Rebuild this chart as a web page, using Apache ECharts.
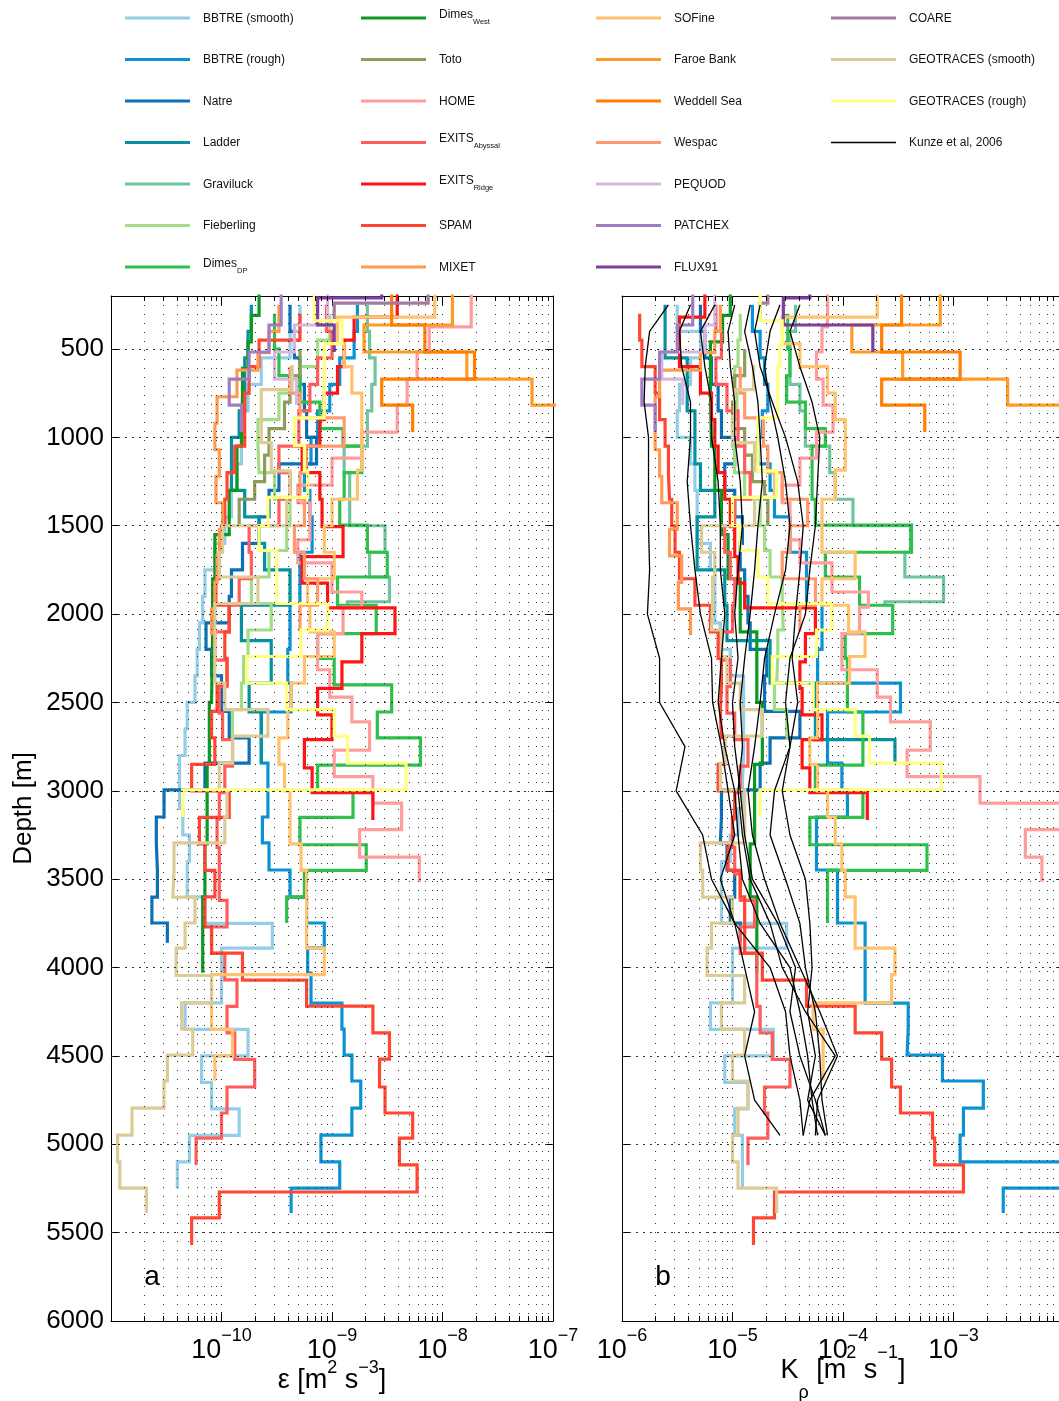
<!DOCTYPE html>
<html>
<head>
<meta charset="utf-8">
<script src="https://cdn.jsdelivr.net/npm/echarts@6.0.0/dist/echarts.min.js"></script>
<style>
html, body { margin: 0; padding: 0; background: #fff; }
#main { width: 1059px; height: 1401px; }
</style>
</head>
<body>
<div id="main"></div>
<script>
// all profile values are log10 of epsilon [m2 s-3] and K_rho [m2 s-1]
// depth arrays are bin edges in m (one more than the values)

const bbtreSmoothDepth = [250, 400, 550, 700, 850, 1000, 1150, 1300, 1450, 1600, 1750, 1900, 2050, 2200, 2350, 2500, 2650, 2800, 2950, 3100, 3250, 3400, 3600, 3750, 3890, 4200, 4350, 4500, 4650, 4800, 4950, 5100, 5250];
const bbtreSmoothEps = [-9.29, -9.38, -9.64, -9.76, -9.82, -9.82, -9.86, -9.91, -9.97, -10.06, -10.15, -10.17, -10.20, -10.22, -10.24, -10.31, -10.33, -10.38, -10.38, -10.35, -10.29, -10.31, -10.15, -9.54, -10.00, -10.33, -9.76, -10.18, -10.09, -9.84, -10.29, -10.40];
const bbtreSmoothK = [-5.50, -5.29, -5.38, -5.48, -5.50, -5.38, -5.34, -5.32, -5.32, -5.20, -5.16, -5.16, -5.11, -5.02, -4.90, -4.90, -4.90, -4.91, -4.91, -4.95, -5.02, -5.10, -5.10, -4.51, -5.00, -5.20, -4.63, -5.07, -4.86, -4.98, -4.91, -4.91];

const bbtreRoughDepth = [250, 400, 550, 700, 850, 1000, 1150, 1300, 1450, 1650, 1940, 2200, 2390, 2554, 2843, 2995, 3148, 3295, 3448, 3601, 3748, 3889, 4031, 4201, 4348, 4495, 4642, 4795, 4948, 5100, 5248, 5389];
const bbtreRoughEps = [-8.77, -8.80, -8.93, -9.02, -9.13, -9.19, -9.25, -9.20, -9.18, -9.29, -9.38, -9.40, -9.37, -9.64, -9.58, -9.58, -9.63, -9.57, -9.38, -9.23, -9.07, -9.22, -9.19, -8.91, -8.89, -8.82, -8.74, -8.82, -9.10, -8.93, -9.37];
const bbtreRoughK = [-4.82, -4.75, -4.71, -4.68, -4.73, -4.77, -4.66, -4.62, -4.48, -4.33, -4.19, -4.23, -3.48, -4.14, -4.01, -3.96, -4.24, -4.24, -4.05, -4.05, -3.80, -3.80, -3.80, -3.41, -3.42, -3.10, -2.73, -2.91, -2.94, -1.85, -2.55];

const natreDepth = [250, 400, 550, 700, 850, 1000, 1150, 1300, 1450, 1600, 1750, 1900, 2050, 2200, 2350, 2550, 2700, 2843, 2995, 3148, 3295, 3448, 3601, 3748, 3860];
const natreEps = [-9.38, -9.34, -9.29, -9.25, -9.23, -9.14, -9.48, -9.57, -9.66, -9.81, -9.91, -9.93, -10.14, -10.09, -10.00, -9.93, -9.75, -10.15, -10.52, -10.59, -10.58, -10.58, -10.63, -10.49];
const natreK = [-5.29, -5.25, -5.19, -5.13, -5.10, -4.98, -5.07, -4.98, -4.91, -4.93, -4.89, -4.86, -4.84, -4.69, -4.71, -4.39, -4.66, -4.75, -5.10, -5.11, -5.05, -4.98, -5.02, -4.93];

const ladderDepth = [250, 400, 550, 700, 850, 1000, 1150, 1300, 1450, 1600, 1750, 1950, 2150, 2390, 2554, 2710, 2843];
const ladderEps = [-9.73, -9.76, -9.79, -9.79, -9.84, -9.91, -9.91, -9.79, -9.66, -9.61, -9.38, -9.82, -9.55, -9.75, -9.64, -9.64];
const ladderK = [-5.61, -5.61, -5.41, -5.41, -5.34, -5.34, -5.29, -5.16, -5.32, -5.32, -5.07, -5.05, -4.66, -4.25, -4.25, -3.53];

const graviluckDepth = [250, 400, 550, 700, 850, 1050, 1200, 1350, 1500, 1650, 1790, 1930, 1945];
const graviluckEps = [-8.68, -8.66, -8.61, -8.64, -8.68, -8.89, -8.84, -8.84, -8.52, -8.66, -8.48, -8.86];
const graviluckK = [-4.43, -4.48, -4.48, -4.39, -4.34, -4.12, -4.07, -3.91, -3.39, -3.44, -3.09, -3.62];

const fieberlingDepth = [300, 450, 600, 750, 900, 1050, 1200, 1350, 1500, 1640, 1790, 1940, 2090, 2240, 2390, 2540, 2710];
const fieberlingEps = [-9.02, -9.13, -9.29, -9.48, -9.67, -9.66, -9.52, -9.38, -9.41, -9.57, -9.73, -9.55, -9.76, -9.80, -9.82, -9.90];
const fieberlingK = [-4.93, -4.95, -4.98, -4.96, -5.00, -4.98, -4.89, -4.75, -4.71, -4.66, -4.55, -4.54, -4.59, -4.60, -4.62, -4.51];

const dimesDPDepth = [300, 500, 650, 800, 950, 1050, 1200, 1350, 1496, 1650, 1790, 1950, 2110, 2250, 2400, 2554, 2700, 2855, 3000, 3150, 3305, 3450, 3600, 3748];
const dimesDPEps = [-9.52, -9.48, -9.29, -9.11, -8.90, -8.73, -8.89, -8.93, -8.68, -8.50, -8.95, -8.60, -9.13, -8.98, -8.46, -8.59, -8.20, -9.13, -8.81, -9.29, -8.69, -9.25, -9.41];
const dimesDPK = [-4.50, -4.48, -4.51, -4.34, -4.16, -4.28, -4.28, -4.25, -3.38, -4.16, -3.85, -3.55, -3.98, -3.96, -3.96, -3.82, -3.82, -4.25, -3.82, -4.30, -3.24, -4.14, -4.14];

const dimesWestDepth = [100, 310, 460, 610, 760, 1050, 1300, 1550, 1800, 2100, 2500, 2850, 3300, 3600, 4030];
const dimesWestEps = [-9.66, -9.73, -9.76, -9.81, -9.82, -9.86, -9.93, -10.06, -10.08, -10.09, -10.11, -10.13, -10.15, -10.17];
const dimesWestK = [-5.02, -5.09, -5.20, -5.20, -5.19, -5.16, -5.10, -5.04, -4.93, -4.78, -4.73, -4.80, -4.84, -4.78];

const totoDepth = [500, 650, 800, 950, 1100, 1250, 1350, 1500];
const totoEps = [-9.29, -9.38, -9.43, -9.57, -9.61, -9.70, -9.84];
const totoK = [-4.89, -4.98, -5.00, -4.89, -4.82, -4.71, -4.68];

const homeDepth = [100, 375, 517, 670, 817, 970, 1117, 1270, 1370, 1580, 1710, 1875, 1960, 2110, 2315, 2470, 2610, 2770, 2920, 3070, 3220, 3375, 3515];
const homeEps = [-7.74, -8.12, -8.23, -8.32, -8.41, -8.73, -9.00, -9.31, -9.20, -9.31, -9.00, -8.73, -8.90, -9.13, -9.02, -8.82, -8.66, -8.98, -8.63, -8.37, -8.75, -8.21];
const homeK = [-4.14, -4.19, -4.24, -4.18, -4.09, -4.24, -4.39, -4.55, -4.48, -4.39, -4.10, -3.77, -3.85, -4.01, -3.69, -3.57, -3.21, -3.42, -2.76, -1.90, -2.35, -2.20];

const exitsAbyssalDepth = [250, 400, 550, 700, 850, 1050, 1200, 1350, 1500, 1650, 1800, 1950, 2100, 2260, 2410, 2560, 2710, 2860, 3010, 3160, 3320, 3470, 3620, 3770, 3920, 4070, 4220, 4370, 4520, 4676, 4823, 4965, 5117];
const exitsAbyssalEps = [-9.05, -9.00, -9.13, -9.20, -9.30, -9.48, -9.38, -9.48, -9.75, -9.73, -9.84, -9.93, -10.06, -9.95, -10.02, -9.99, -9.90, -9.97, -10.02, -10.04, -10.02, -10.02, -9.95, -10.09, -9.97, -9.86, -9.95, -9.88, -9.70, -9.95, -10.00, -10.23];
const exitsAbyssalK = [-5.15, -5.10, -5.15, -5.05, -4.95, -4.89, -4.84, -4.98, -5.07, -5.02, -4.98, -5.00, -5.10, -5.02, -5.05, -4.98, -4.86, -4.93, -4.98, -5.00, -4.98, -4.93, -4.80, -4.93, -4.78, -4.78, -4.75, -4.64, -4.48, -4.71, -4.68, -4.86];

const exitsRidgeDepth = [100, 320, 450, 600, 750, 900, 1050, 1200, 1350, 1505, 1675, 1825, 1965, 2110, 2270, 2420, 2570, 2710, 2870, 3010, 3165];
const exitsRidgeEps = [-8.41, -8.80, -8.89, -8.95, -9.07, -9.11, -9.27, -9.11, -9.09, -8.90, -9.27, -9.04, -8.43, -8.73, -8.91, -9.13, -9.00, -9.25, -9.18, -8.63];
const exitsRidgeK = [-5.25, -5.48, -5.48, -5.29, -5.19, -5.16, -5.13, -5.07, -5.02, -4.98, -4.95, -4.89, -4.25, -4.34, -4.39, -4.37, -4.19, -4.37, -4.30, -3.78];

const spamDepth = [300, 450, 600, 750, 900, 1050, 1200, 1350, 1500, 1650, 1800, 1950, 2100, 2250, 2400, 2550, 2700, 2850, 3000, 3150, 3300, 3450, 3600, 3770, 3918, 4071, 4218, 4370, 4518, 4676, 4823, 4965, 5117, 5270, 5417, 5570];
const spamEps = [-9.29, -9.66, -9.75, -9.79, -9.79, -9.88, -9.95, -9.97, -10.00, -10.02, -10.05, -9.93, -9.97, -9.95, -10.04, -10.09, -10.06, -10.27, -9.93, -10.20, -10.15, -10.06, -10.15, -10.09, -9.81, -9.23, -8.63, -8.48, -8.57, -8.52, -8.27, -8.39, -8.23, -10.02, -10.27];
const spamK = [-5.84, -5.82, -5.70, -5.66, -5.61, -5.58, -5.57, -5.55, -5.52, -5.48, -5.34, -5.20, -5.13, -5.10, -5.11, -5.10, -5.07, -5.13, -4.98, -5.00, -5.04, -4.93, -4.89, -4.89, -4.73, -4.33, -3.89, -3.65, -3.56, -3.48, -3.19, -3.17, -2.91, -4.62, -4.81];

const mixetDepth = [250, 400, 520, 620, 770, 920, 1070, 1220, 1370, 1520, 1670, 1820, 1970, 2120];
const mixetEps = [-9.48, -9.57, -9.67, -9.86, -10.04, -10.06, -10.02, -10.05, -9.99, -10.02, -10.04, -10.06, -10.09];
const mixetK = [-5.11, -5.16, -5.29, -5.66, -5.70, -5.70, -5.66, -5.64, -5.50, -5.57, -5.46, -5.49, -5.38];

const sofineDepth = [100, 320, 470, 600, 750, 900, 1050, 1185, 1350, 1500, 1650, 1800, 1950, 2100, 2240, 2390, 2540, 2700, 2850, 3000, 3150, 3300, 3450, 3600, 3750, 3890, 4040, 4200, 4350, 4500, 4640];
const sofineEps = [-8.07, -8.95, -8.89, -8.82, -8.73, -8.73, -8.73, -8.77, -9.00, -9.07, -8.98, -9.22, -9.20, -8.98, -9.25, -9.37, -9.40, -9.48, -9.43, -9.38, -9.38, -9.28, -9.23, -9.23, -9.23, -9.07, -10.09, -10.09, -9.90, -10.06];
const sofineK = [-3.69, -4.55, -4.39, -4.14, -4.07, -3.98, -3.98, -4.07, -4.19, -4.19, -3.89, -4.19, -3.95, -3.80, -3.94, -4.23, -4.23, -4.30, -4.23, -4.14, -4.07, -4.01, -3.98, -3.89, -3.89, -3.53, -3.56, -4.27, -4.18, -4.18];

const faroeDepth = [100, 364, 517, 670, 817, 970];
const faroeEps = [-7.91, -8.71, -7.78, -7.19, -6.90];
const faroeK = [-3.12, -3.92, -3.46, -2.51, -1.90];

const weddellDepth = [100, 364, 517, 670, 817, 970];
const weddellEps = [-8.46, -8.16, -7.71, -8.55, -8.27];
const weddellK = [-3.47, -3.65, -2.94, -3.65, -3.26];

const wespacDepth = [600, 750, 890, 1050, 1200, 1350, 1500, 1650, 1800, 1950, 2100];
const wespacEps = [-9.38, -9.29, -8.89, -9.23, -9.29, -9.25, -9.34, -9.25, -9.13, -9.29];
const wespacK = [-4.93, -4.89, -4.72, -4.68, -4.55, -4.32, -4.48, -4.55, -4.25, -4.39];

const pequodDepth = [100, 364, 517, 670, 817];
const pequodEps = [-9.04, -9.34, -9.52, -9.32];
const pequodK = [-5.16, -5.25, -5.64, -5.45];

const patchexDepth = [100, 364, 517, 670, 817, 970];
const patchexEps = [-9.46, -9.57, -9.75, -9.93, -9.82];
const patchexK = [-5.36, -5.50, -5.66, -5.82, -5.70];

const flux91Depth = [100, 211, 364, 517];
const flux91Eps = [-8.55, -9.13, -8.98];
const flux91K = [-4.30, -4.54, -3.73];

const coareDepth = [100, 240, 330];
const coareEps = [-8.13, -8.98];
const coareK = [-4.68, -4.75];

const geoSmoothDepth = [590, 730, 880, 1030, 1190, 1340, 1500, 1650, 1790, 1940, 2090, 2240, 2390, 2540, 2690, 2843, 2995, 3148, 3295, 3448, 3601, 3748, 3890, 4045, 4200, 4348, 4495, 4642, 4795, 4948, 5100, 5248, 5389];
const geoSmoothEps = [-9.36, -9.64, -9.64, -9.55, -9.38, -9.41, -9.99, -10.02, -9.67, -10.06, -10.06, -10.06, -9.97, -9.58, -9.90, -10.02, -9.95, -9.97, -10.43, -10.44, -10.24, -10.33, -10.41, -10.09, -10.36, -10.26, -10.49, -10.52, -10.81, -10.94, -10.92, -10.68];
const geoSmoothK = [-4.81, -4.98, -5.00, -4.80, -4.62, -4.80, -5.28, -5.16, -5.18, -5.19, -5.10, -5.05, -4.93, -4.73, -5.07, -5.11, -4.89, -4.89, -5.29, -5.27, -5.00, -5.19, -5.23, -4.89, -5.10, -4.89, -5.00, -4.86, -4.95, -5.00, -4.95, -4.60];

const geoRoughDepth = [100, 340, 470, 600, 750, 890, 1045, 1190, 1340, 1500, 1640, 1790, 1940, 2090, 2240, 2390, 2540, 2690, 2843, 2995, 3148];
const geoRoughEps = [-9.16, -8.91, -9.07, -9.07, -9.07, -9.34, -9.25, -9.22, -9.58, -9.66, -9.50, -9.50, -9.04, -9.28, -9.77, -9.41, -8.98, -8.86, -8.33, -10.35];
const geoRoughK = [-4.75, -4.55, -4.57, -4.59, -4.59, -4.77, -4.77, -4.60, -5.00, -4.93, -4.77, -4.68, -4.10, -4.24, -4.64, -4.27, -3.89, -3.76, -3.11, -4.75];

// Kunze et al. 2006 profiles (log10 K_rho at fixed depths)
const kunzeDepth = [250, 400, 600, 800, 1000, 1250, 1500, 1750, 2000, 2250, 2500, 2750, 3000, 3250, 3500, 3750, 4000, 4250, 4500, 4750, 4950];
const kunze1 = [-5.58, -5.75, -5.79, -5.80, -5.76, -5.76, -5.76, -5.75, -5.77, -5.66, -5.66, -5.43, -5.51, -5.27, -5.19, -4.98, -4.89, -4.80, -4.89, -4.80, -4.57];
const kunze2 = [-5.38, -5.48, -5.46, -5.38, -5.38, -5.41, -5.38, -5.34, -5.29, -5.19, -5.18, -5.10, -5.04, -4.98, -5.11, -4.98, -4.66, -4.52, -4.48, -4.39, -4.36];
const kunze3 = [-5.16, -5.29, -5.25, -5.19, -5.19, -5.13, -5.11, -5.11, -5.07, -5.10, -5.13, -5.07, -4.98, -4.95, -4.91, -4.75, -4.48, -4.39, -4.32, -4.28, -4.23];
const kunze4 = [-4.98, -5.04, -5.02, -4.98, -4.98, -4.93, -4.91, -4.95, -4.98, -4.95, -5.00, -4.98, -4.93, -4.89, -4.82, -4.59, -4.43, -4.48, -4.39, -4.25, -4.16];
const kunze5 = [-4.84, -4.89, -4.82, -4.77, -4.75, -4.73, -4.77, -4.80, -4.84, -4.89, -4.93, -4.91, -4.95, -4.91, -4.84, -4.66, -4.55, -4.34, -4.07, -4.30, -4.36];
const kunze6 = [-4.57, -4.66, -4.71, -4.66, -4.59, -4.52, -4.48, -4.52, -4.62, -4.71, -4.75, -4.80, -4.86, -4.82, -4.71, -4.57, -4.39, -4.21, -4.05, -4.23, -4.25];
const kunze7 = [-4.39, -4.48, -4.39, -4.28, -4.21, -4.23, -4.25, -4.30, -4.34, -4.48, -4.52, -4.48, -4.55, -4.48, -4.34, -4.30, -4.28, -4.32, -4.25, -4.32, -4.16];
const kunze8 = [-4.75, -4.80, -4.75, -4.64, -4.52, -4.41, -4.36, -4.39, -4.43, -4.46, -4.41, -4.48, -4.62, -4.66, -4.52, -4.39, -4.34, -4.25, -4.21, -4.19, -4.14];

// axis ticks
const depthTicks = [500, 1000, 1500, 2000, 2500, 3000, 3500, 4000, 4500, 5000, 5500, 6000];
const epsDecades = [-11, -10, -9, -8];
const kDecades = [-6, -5, -4, -3];
const minorSteps = [1, 2, 3, 4, 5, 6, 7, 8, 9];
const epsLabelExps = [-10, -9, -8, -7];
const kLabelExps = [-6, -5, -4, -3];

const profiles = [
  { name: 'BBTRE (smooth)', label: 'BBTRE (smooth)', color: '#94cde6', depth: bbtreSmoothDepth, eps: bbtreSmoothEps, k: bbtreSmoothK },
  { name: 'BBTRE (rough)', label: 'BBTRE (rough)', color: '#0a92d2', depth: bbtreRoughDepth, eps: bbtreRoughEps, k: bbtreRoughK },
  { name: 'Natre', label: 'Natre', color: '#0b70b5', depth: natreDepth, eps: natreEps, k: natreK },
  { name: 'Ladder', label: 'Ladder', color: '#05929e', depth: ladderDepth, eps: ladderEps, k: ladderK },
  { name: 'Graviluck', label: 'Graviluck', color: '#6fc59b', depth: graviluckDepth, eps: graviluckEps, k: graviluckK },
  { name: 'Fieberling', label: 'Fieberling', color: '#a1dd86', depth: fieberlingDepth, eps: fieberlingEps, k: fieberlingK },
  { name: 'Dimes DP', label: '{n|Dimes}{s|DP}', color: '#2fbf4b', depth: dimesDPDepth, eps: dimesDPEps, k: dimesDPK },
  { name: 'Dimes West', label: '{n|Dimes}{s|West}', color: '#0a9a22', depth: dimesWestDepth, eps: dimesWestEps, k: dimesWestK },
  { name: 'Toto', label: 'Toto', color: '#8f9b58', depth: totoDepth, eps: totoEps, k: totoK },
  { name: 'HOME', label: 'HOME', color: '#ff9d9d', depth: homeDepth, eps: homeEps, k: homeK },
  { name: 'EXITS Abyssal', label: '{n|EXITS}{s|Abyssal}', color: '#ff5c5c', depth: exitsAbyssalDepth, eps: exitsAbyssalEps, k: exitsAbyssalK },
  { name: 'EXITS Ridge', label: '{n|EXITS}{s|Ridge}', color: '#ff1414', depth: exitsRidgeDepth, eps: exitsRidgeEps, k: exitsRidgeK },
  { name: 'SPAM', label: 'SPAM', color: '#ff4632', depth: spamDepth, eps: spamEps, k: spamK },
  { name: 'MIXET', label: 'MIXET', color: '#ff9a52', depth: mixetDepth, eps: mixetEps, k: mixetK },
  { name: 'SOFine', label: 'SOFine', color: '#ffc26f', depth: sofineDepth, eps: sofineEps, k: sofineK },
  { name: 'Faroe Bank', label: 'Faroe Bank', color: '#ff9a26', depth: faroeDepth, eps: faroeEps, k: faroeK },
  { name: 'Weddell Sea', label: 'Weddell Sea', color: '#ff7f00', depth: weddellDepth, eps: weddellEps, k: weddellK },
  { name: 'Wespac', label: 'Wespac', color: '#ff9a6e', depth: wespacDepth, eps: wespacEps, k: wespacK },
  { name: 'PEQUOD', label: 'PEQUOD', color: '#d9b6dd', depth: pequodDepth, eps: pequodEps, k: pequodK },
  { name: 'PATCHEX', label: 'PATCHEX', color: '#a07dc2', depth: patchexDepth, eps: patchexEps, k: patchexK },
  { name: 'FLUX91', label: 'FLUX91', color: '#7c3e9f', depth: flux91Depth, eps: flux91Eps, k: flux91K },
  { name: 'COARE', label: 'COARE', color: '#a27aa2', depth: coareDepth, eps: coareEps, k: coareK },
  { name: 'GEOTRACES (smooth)', label: 'GEOTRACES (smooth)', color: '#dccb96', depth: geoSmoothDepth, eps: geoSmoothEps, k: geoSmoothK },
  { name: 'GEOTRACES (rough)', label: 'GEOTRACES (rough)', color: '#ffff82', depth: geoRoughDepth, eps: geoRoughEps, k: geoRoughK }
];
const kunzeLines = [kunze1, kunze2, kunze3, kunze4, kunze5, kunze6, kunze7, kunze8];
const kunzeName = 'Kunze et al, 2006';

const font = 'Liberation Sans, Arial, Helvetica, sans-serif';
const MINUS = '\u2212';

function stepPoints(depth, logVals) {
  var pts = [];
  for (var i = 0; i < logVals.length; i++) {
    var v = Math.pow(10, logVals[i]);
    pts.push([v, depth[i]], [v, depth[i + 1]]);
  }
  return pts;
}

function gridValues(decades) {
  var out = [];
  decades.forEach(function (n, di) {
    minorSteps.forEach(function (m) {
      if (di === 0 && m === 1) return;
      out.push(m * Math.pow(10, n));
    });
  });
  return out;
}

var epsGrid = gridValues(epsDecades);
var kGrid = gridValues(kDecades);

function helperSeries(gi, xvals) {
  var top = depthTicks[0] - 300, bottom = depthTicks[depthTicks.length - 1];
  var dotted = xvals.map(function (v) { return [{ coord: [v, top] }, { coord: [v, bottom] }]; });
  var hdotted = depthTicks.slice(0, -1).map(function (d) { return { yAxis: d }; });
  var ticks = [];
  xvals.forEach(function (v) {
    if (Math.abs(Math.log10(v) - Math.round(Math.log10(v))) < 1e-6) return;
    ticks.push([{ coord: [v, bottom] }, { coord: [v, bottom - 28] }]);
    ticks.push([{ coord: [v, top] }, { coord: [v, top + 28] }]);
  });
  function ml(data, style) {
    return {
      type: 'line', xAxisIndex: gi, yAxisIndex: gi, data: [], silent: true, z: 1,
      markLine: { silent: true, symbol: ['none', 'none'], animation: false, label: { show: false }, lineStyle: style, data: data }
    };
  }
  return [
    ml(dotted, { color: '#333', width: 1, type: [1, 8] }),
    ml(hdotted, { color: '#333', width: 1, type: [2, 5] }),
    ml(ticks, { color: '#000', width: 1, type: 'solid' })
  ];
}

var series = [].concat(helperSeries(0, epsGrid), helperSeries(1, kGrid));

profiles.forEach(function (p) {
  [['eps', 0], ['k', 1]].forEach(function (pair) {
    series.push({
      name: p.name, type: 'line', xAxisIndex: pair[1], yAxisIndex: pair[1],
      data: stepPoints(p.depth, p[pair[0]]),
      showSymbol: false, symbol: 'none', silent: true, z: 3,
      lineStyle: { color: p.color, width: 3.2, join: 'miter' },
      itemStyle: { color: p.color }
    });
  });
});
kunzeLines.forEach(function (line) {
  series.push({
    name: kunzeName, type: 'line', xAxisIndex: 1, yAxisIndex: 1,
    data: kunzeDepth.map(function (d, i) { return [Math.pow(10, line[i]), d]; }),
    showSymbol: false, symbol: 'none', silent: true, z: 4,
    lineStyle: { color: '#000', width: 1.3 },
    itemStyle: { color: '#000' }
  });
});

function xAxis(gi, min, max, pos) {
  return {
    type: 'log', logBase: 10, gridIndex: gi, min: min, max: max, position: pos,
    axisLine: { show: true, onZero: false, lineStyle: { color: '#000', width: 1 } },
    axisTick: { show: true, inside: true, length: 9, lineStyle: { color: '#000' } },
    axisLabel: { show: false },
    splitLine: { show: false }
  };
}

function yAxis(gi, pos, labels, name) {
  return {
    type: 'value', inverse: true, min: 200, max: 6000, gridIndex: gi, position: pos,
    axisLine: { show: true, onZero: false, lineStyle: { color: '#000', width: 1 } },
    axisTick: { show: true, inside: true, length: 8, customValues: depthTicks, lineStyle: { color: '#000' } },
    axisLabel: {
      show: labels, customValues: depthTicks, fontSize: 26, fontFamily: font, color: '#000', margin: 7,
      formatter: function (v) { return String(v); }
    },
    splitLine: { show: false },
    name: name || '', nameLocation: 'middle', nameGap: 74, nameRotate: 90, nameMoveOverlap: false,
    nameTextStyle: { fontSize: 26, fontFamily: font, color: '#000' }
  };
}

// legend drawn as graphic rows, 7 per column
var legendCols = [125, 361, 596, 831];
var legendItems = profiles.map(function (p) { return { label: p.label, color: p.color, width: 3.2 }; })
  .concat([{ label: kunzeName, color: '#000', width: 1.3 }]);
var graphics = [];
legendItems.forEach(function (it, i) {
  var x0 = legendCols[Math.floor(i / 7)];
  var y = 18 + 41.5 * (i % 7);
  var hasSub = it.label.indexOf('{s|') >= 0;
  graphics.push({ type: 'line', silent: true, shape: { x1: x0, y1: y, x2: x0 + 65, y2: y }, style: { stroke: it.color, lineWidth: it.width } });
  graphics.push({
    type: 'text', silent: true, x: x0 + 78, y: hasSub ? y - 1 : y + 0.5,
    style: {
      text: it.label, fill: '#111', fontSize: 12, fontFamily: font, verticalAlign: 'middle',
      rich: {
        n: { fontSize: 12, fontFamily: font, fill: '#111', lineHeight: 14, verticalAlign: 'top' },
        s: { fontSize: 7.5, fontFamily: font, fill: '#111', lineHeight: 17, verticalAlign: 'bottom' }
      }
    }
  });
});
graphics.push({ type: 'text', silent: true, x: 152, y: 1277, style: { text: 'a', fontSize: 28, fontFamily: font, fill: '#000', align: 'center', verticalAlign: 'middle' } });
graphics.push({ type: 'text', silent: true, x: 663, y: 1277, style: { text: 'b', fontSize: 28, fontFamily: font, fill: '#000', align: 'center', verticalAlign: 'middle' } });

var chart = echarts.init(document.getElementById('main'), null, { renderer: 'canvas' });
chart.setOption({
  animation: false,
  backgroundColor: '#fff',
  grid: [
    { left: 111, top: 296, width: 442, height: 1025, outerBoundsMode: 'none', containLabel: false },
    { left: 622, top: 296, width: 442, height: 1025, outerBoundsMode: 'none', containLabel: false }
  ],
  xAxis: [xAxis(0, 1e-11, 1e-7, 'bottom'), xAxis(1, 1e-6, 1e-2, 'bottom'), xAxis(0, 1e-11, 1e-7, 'top'), xAxis(1, 1e-6, 1e-2, 'top')],
  yAxis: [yAxis(0, 'left', true, 'Depth [m]'), yAxis(1, 'left', false), yAxis(0, 'right', false), yAxis(1, 'right', false)],
  graphic: graphics,
  series: series
});

// x tick labels and axis titles with real super/subscripts, placed from the axis scales
var measureCtx = document.createElement('canvas').getContext('2d');
function textWidth(t, size) {
  measureCtx.font = size + 'px ' + font;
  return measureCtx.measureText(t).width;
}
function placePieces(pieces, cx, baseY) {
  var total = 0;
  pieces.forEach(function (p) { p.w = textWidth(p.t, p.size); total += p.w; });
  var x = cx - total / 2;
  pieces.forEach(function (p) {
    graphics.push({
      type: 'text', silent: true, x: x, y: baseY + (p.dy || 0),
      style: { text: p.t, fontSize: p.size, fontFamily: font, fill: '#000', align: 'left', verticalAlign: 'middle' }
    });
    x += p.w;
  });
}
var axisBottom = chart.convertToPixel({ yAxisIndex: 0 }, 6000);
[[0, epsLabelExps], [1, kLabelExps]].forEach(function (pair) {
  pair[1].forEach(function (e) {
    var cx = chart.convertToPixel({ xAxisIndex: pair[0] }, Math.pow(10, e));
    placePieces([{ t: '10', size: 27 }, { t: (e < 0 ? MINUS : '') + Math.abs(e), size: 18, dy: -14 }], cx, axisBottom + 29.5);
  });
});
placePieces([
  { t: '\u03b5 [m', size: 27 }, { t: '2', size: 18, dy: -12.5 }, { t: ' s', size: 27 },
  { t: MINUS + '3', size: 18, dy: -12.5 }, { t: ']', size: 27 }
], chart.convertToPixel({ xAxisIndex: 0 }, 1e-9), axisBottom + 59.5);
placePieces([
  { t: 'K', size: 27 }, { t: '\u03c1', size: 18, dy: 22.5 }, { t: ' [m', size: 27 }, { t: '2', size: 18, dy: -17.5 },
  { t: ' s', size: 27 }, { t: MINUS + '1', size: 18, dy: -17.5 }, { t: ']', size: 27 }
], chart.convertToPixel({ xAxisIndex: 1 }, 1e-4), axisBottom + 49.5);

chart.setOption({ graphic: graphics });
</script>
</body>
</html>
